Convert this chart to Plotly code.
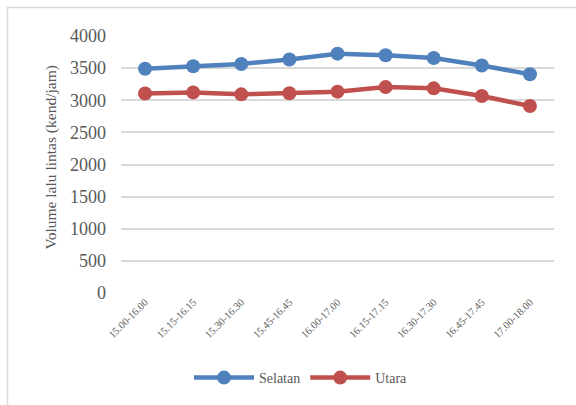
import plotly.graph_objects as go

categories = ["15.00-16.00", "15.15-16.15", "15.30-16.30", "15.45-16.45", "16.00-17.00",
              "16.15-17.15", "16.30-17.30", "16.45-17.45", "17.00-18.00"]
selatan = [3490, 3530, 3565, 3635, 3725, 3700, 3658, 3540, 3405]
utara = [3105, 3122, 3092, 3108, 3134, 3205, 3185, 3065, 2910]
y_ticks = [0, 500, 1000, 1500, 2000, 2500, 3000, 3500, 4000]

W, H = 576, 405
ml, mr, mt, mb = 121, 22, 36, 111
pw, ph = W - ml - mr, H - mt - mb
FONT = "Liberation Serif"

def px(x):
    return (x - ml) / pw

def py(y):
    return (H - mb - y) / ph

fig = go.Figure()
fig.add_trace(go.Scatter(x=categories, y=selatan, name="Selatan", mode="lines+markers",
                         line=dict(color="#4F81BD", width=4.5),
                         marker=dict(size=14, color="#4F81BD")))
fig.add_trace(go.Scatter(x=categories, y=utara, name="Utara", mode="lines+markers",
                         line=dict(color="#C0504D", width=4.5),
                         marker=dict(size=14, color="#C0504D")))

fig.update_layout(
    width=W, height=H,
    margin=dict(l=ml, r=mr, t=mt, b=mb),
    paper_bgcolor="white", plot_bgcolor="white",
    font=dict(family=FONT, color="#595959"),
    showlegend=True,
    legend=dict(orientation="h", x=px(301), xanchor="center", y=py(378), yanchor="middle",
                font=dict(family=FONT, size=14, color="#595959"), itemwidth=60,
                bgcolor="rgba(0,0,0,0)"),
    xaxis=dict(type="category", showgrid=False, zeroline=False, showline=False,
               tickangle=-45, tickfont=dict(family=FONT, size=10.5, color="#595959"),
               ticks="", range=[-0.5, len(categories) - 0.5]),
    yaxis=dict(range=[0, 4000], tickvals=y_ticks, showgrid=True, gridcolor="#D9D9D9",
               gridwidth=1.5, zeroline=False, showline=False,
               tickfont=dict(family=FONT, size=18, color="#595959"), ticklabelstandoff=14),
    annotations=[dict(text="Volume lalu lintas (kend/jam)", xref="paper", yref="paper",
                      x=px(51), y=py(158), textangle=-90, showarrow=False,
                      font=dict(family=FONT, size=15.5, color="#595959"),
                      xanchor="center", yanchor="middle")],
    shapes=[dict(type="rect", xref="paper", yref="paper",
                 x0=px(7.5), x1=px(590), y0=py(420), y1=py(7.5),
                 line=dict(color="#D9D9D9", width=1.5), layer="below")],
)

fig.write_html("out.html")
